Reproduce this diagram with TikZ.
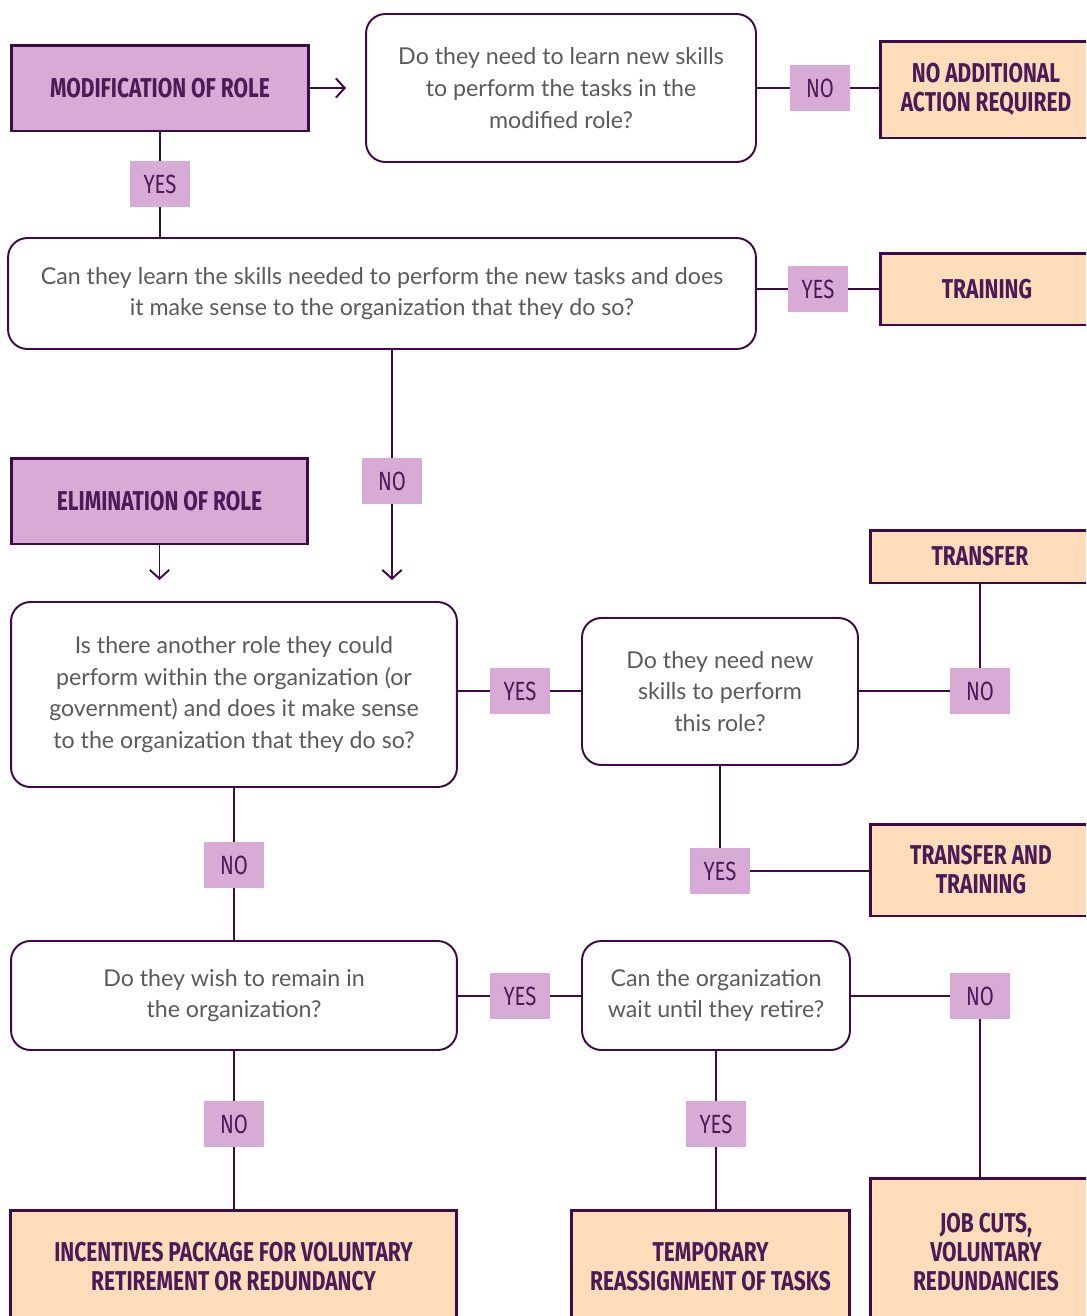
\documentclass[tikz,border=0pt]{standalone}
\usepackage{fontspec}
\setmainfont{Lato}
\newfontfamily\headfont[FakeStretch=0.77]{Fira Sans}
\usetikzlibrary{arrows.meta}

\definecolor{plum}{HTML}{3D0A45}
\definecolor{plumtext}{HTML}{4B1A57}
\definecolor{lilac}{HTML}{D8AAD6}
\definecolor{peach}{HTML}{FFDDBB}
\definecolor{greytext}{HTML}{5A5A5A}

\begin{document}
\begin{tikzpicture}[x=0.02cm, y=-0.02cm,
  question/.style={draw=plum, line width=1.1pt, rounded corners=11pt, fill=white,
    align=center, text=greytext, inner sep=0pt, font=\fontsize{13.2}{18}\selectfont},
  role/.style={draw=plum, line width=1.7pt, fill=lilac, align=center, text=plumtext,
    inner sep=0pt, font=\headfont\bfseries\fontsize{15.5}{16.5}\selectfont},
  outcome/.style={role, fill=peach},
  answer/.style={fill=lilac, text=plumtext, minimum width=1.2cm, minimum height=0.92cm,
    inner sep=0pt, font=\headfont\fontsize{15}{16}\selectfont},
  link/.style={draw=plum, line width=1.1pt},
  arrowlink/.style={link, -{Straight Barb[length=5pt,width=11pt]}}]
  \useasboundingbox (0,0) rectangle (1086,1316);
  \clip (0,0) rectangle (1086,1316);

  \node[role, minimum width=5.96cm, minimum height=1.72cm] (modrole) at (160,88) {MODIFICATION OF ROLE};
  \node[question, minimum width=7.8cm, minimum height=2.96cm] (qlearn) at (561,88)
    {Do they need to learn new skills\\to perform the tasks in the\\modified role?};
  \node[outcome, minimum width=4.24cm, minimum height=1.94cm] (noaction) at (986,89.5) {NO ADDITIONAL\\ACTION REQUIRED};
  \node[question, minimum width=14.96cm, minimum height=2.22cm] (qcan) at (382,293.5)
    {Can they learn the skills needed to perform the new tasks and does\\it make sense to the organization that they do so?};
  \node[outcome, minimum width=4.28cm, minimum height=1.44cm] (training) at (987,289) {TRAINING};
  \node[role, minimum width=5.94cm, minimum height=1.72cm] (elimrole) at (159.5,501) {ELIMINATION OF ROLE};
  \node[question, minimum width=8.92cm, minimum height=3.7cm] (qother) at (234,694.5)
    {Is there another role they could\\perform within the organization (or\\government) and does it make sense\\to the organization that they do so?};
  \node[question, minimum width=5.52cm, minimum height=2.94cm] (qnew) at (720,691.5)
    {Do they need new\\skills to perform\\this role?};
  \node[outcome, minimum width=4.4cm, minimum height=1.06cm] (transfer) at (980,556.5) {TRANSFER};
  \node[outcome, minimum width=4.44cm, minimum height=1.84cm] (transtrain) at (981,870) {TRANSFER AND\\TRAINING};
  \node[question, minimum width=8.92cm, minimum height=2.18cm] (qremain) at (234,995.5)
    {Do they wish to remain in\\the organization?};
  \node[question, minimum width=5.36cm, minimum height=2.18cm] (qwait) at (716,995.5)
    {Can the organization\\wait until they retire?};
  \node[outcome, minimum width=8.94cm, minimum height=2.28cm] (incentives) at (233.5,1267)
    {INCENTIVES PACKAGE FOR VOLUNTARY\\RETIREMENT OR REDUNDANCY};
  \node[outcome, minimum width=5.58cm, minimum height=2.28cm] (temporary) at (710.5,1267)
    {TEMPORARY\\REASSIGNMENT OF TASKS};
  \node[outcome, minimum width=4.64cm, minimum height=2.96cm] (jobcuts) at (986,1252)
    {JOB CUTS,\\VOLUNTARY\\REDUNDANCIES};

  \node[answer] (yes1) at (160,184) {YES};
  \node[answer] (no1) at (820,88) {NO};
  \node[answer] (yes2) at (818,289) {YES};
  \node[answer] (no2) at (392,481) {NO};
  \node[answer] (yes3) at (520,691) {YES};
  \node[answer] (no3) at (980,691) {NO};
  \node[answer] (yes4) at (720,871) {YES};
  \node[answer] (no4) at (234,865) {NO};
  \node[answer] (yes5) at (520,996) {YES};
  \node[answer] (no5) at (980,996) {NO};
  \node[answer] (no6) at (234,1124) {NO};
  \node[answer] (yes6) at (716,1124) {YES};

  \coordinate (modtip) at (346,88);
  \coordinate (elimtip) at (159.5,580);
  \coordinate (cantip) at (392,580);

  \draw[arrowlink] (modrole.east) -- (modtip);
  \draw[link] (modrole.south) -- (yes1.north) (yes1.south) -- (yes1.south |- qcan.north);
  \draw[link] (qlearn.east) -- (no1.west) (no1.east) -- (no1.east -| noaction.west);
  \draw[link] (qcan.east |- yes2) -- (yes2.west) (yes2.east) -- (training.west);
  \draw[link] (qcan.south -| no2) -- (no2.north);
  \draw[arrowlink] (no2.south) -- (cantip);
  \draw[arrowlink] (elimrole.south) -- (elimtip);
  \draw[link] (qother.east |- yes3) -- (yes3.west) (yes3.east) -- (yes3 -| qnew.west);
  \draw[link] (qnew.east |- no3) -- (no3.west) (no3.north) -- (transfer.south);
  \draw[link] (qnew.south) -- (yes4.north) (yes4.east) -- (yes4 -| transtrain.west);
  \draw[link] (qother.south) -- (no4.north) (no4.south) -- (qremain.north);
  \draw[link] (qremain.east |- yes5) -- (yes5.west) (yes5.east) -- (yes5 -| qwait.west);
  \draw[link] (qwait.east |- no5) -- (no5.west) (no5.south) -- (no5.south |- jobcuts.north);
  \draw[link] (qremain.south) -- (no6.north) (no6.south) -- (no6.south |- incentives.north);
  \draw[link] (qwait.south) -- (yes6.north) (yes6.south) -- (yes6.south |- temporary.north);
\end{tikzpicture}
\end{document}
